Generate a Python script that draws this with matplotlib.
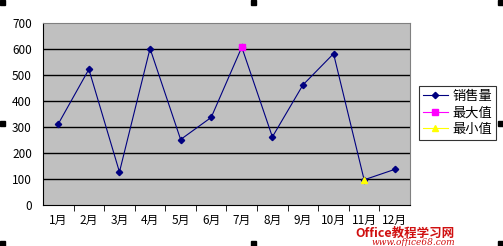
import numpy as np
import matplotlib
matplotlib.use("Agg")
import matplotlib.pyplot as plt
from matplotlib.patches import Rectangle

plt.rcParams['font.family'] = ['Noto Sans CJK SC', 'DejaVu Sans']

months = ["1月", "2月", "3月", "4月", "5月", "6月", "7月", "8月", "9月", "10月", "11月", "12月"]
sales = [310, 520, 125, 600, 250, 335, 605, 260, 460, 580, 95, 135]
max_vals = [np.nan, np.nan, np.nan, np.nan, np.nan, np.nan, 605, np.nan, np.nan, np.nan, np.nan, np.nan]
min_vals = [np.nan, np.nan, np.nan, np.nan, np.nan, np.nan, np.nan, np.nan, np.nan, np.nan, 95, np.nan]
yticks = [0, 100, 200, 300, 400, 500, 600, 700]

fig = plt.figure(figsize=(5.03, 2.46), dpi=100)
ax = fig.add_axes([43/503, 1-204.5/246, (410-43)/503, (204.5-22.5)/246])
ax.set_facecolor('#C0C0C0')

x = np.arange(len(months))
ax.plot(x, sales, color='#000080', lw=0.8, marker='D', ms=3.2, mfc='#000080', mec='#000080', label='销售量', zorder=3)
ax.plot(x, max_vals, color='#FF00FF', lw=0.8, marker='s', ms=4, mfc='#FF00FF', mec='#FF00FF', label='最大值', zorder=4)
ax.plot(x, min_vals, color='#FFFF00', lw=0.8, marker='^', ms=5, mfc='#FFFF00', mec='#FFFF00', label='最小值', zorder=4)

ax.set_xlim(-0.5, 11.5)
ax.set_ylim(0, 700)
ax.set_yticks(yticks)
ax.set_yticklabels([str(v) for v in yticks], fontsize=8.5)
for v in yticks[1:-1]:
    ax.axhline(v, color='black', lw=1, zorder=1)

ax.set_xticks(x)
ax.set_xticklabels(months, fontsize=8.5)
ax.tick_params(axis='x', length=0, pad=7)
ax.set_xticks(np.arange(0.5, 11.5, 1), minor=True)
ax.tick_params(axis='x', which='minor', length=4, direction='out', color='black')
ax.tick_params(axis='y', length=0, pad=8)

for s in ['top', 'right']:
    ax.spines[s].set_color('#808080')
    ax.spines[s].set_linewidth(0.8)
ax.spines['left'].set_color('black')
ax.spines['bottom'].set_color('black')

leg = ax.legend(loc='upper left', bbox_to_anchor=(419/503, 1-86/246), bbox_transform=fig.transFigure,
                fontsize=9.5, frameon=True, fancybox=False, edgecolor='black', borderpad=0.3,
                handlelength=1.9, handletextpad=0.3, labelspacing=0.25, borderaxespad=0)
leg.get_frame().set_linewidth(0.8)

# watermark
fig.text(355/503, 1-233/246, "Office教程学习网", color='#D01010', fontsize=9, fontweight='bold',
         style='italic', va='center', ha='left')
fig.text(372/503, 1-242.5/246, "www.office68.com", color='#D01010', fontsize=6.5, style='italic',
         va='center', ha='left', family='DejaVu Serif')

# selection handles
s = 5
for (px, py) in [(0, 0), (251, 0), (498, 0), (0, 121), (498, 121), (0, 241), (251, 241), (498, 241)]:
    fig.patches.append(Rectangle((px/503, 1-(py+s)/246), s/503, s/246, transform=fig.transFigure,
                                 color='black', zorder=10))

fig.savefig('out.png', dpi=100)
